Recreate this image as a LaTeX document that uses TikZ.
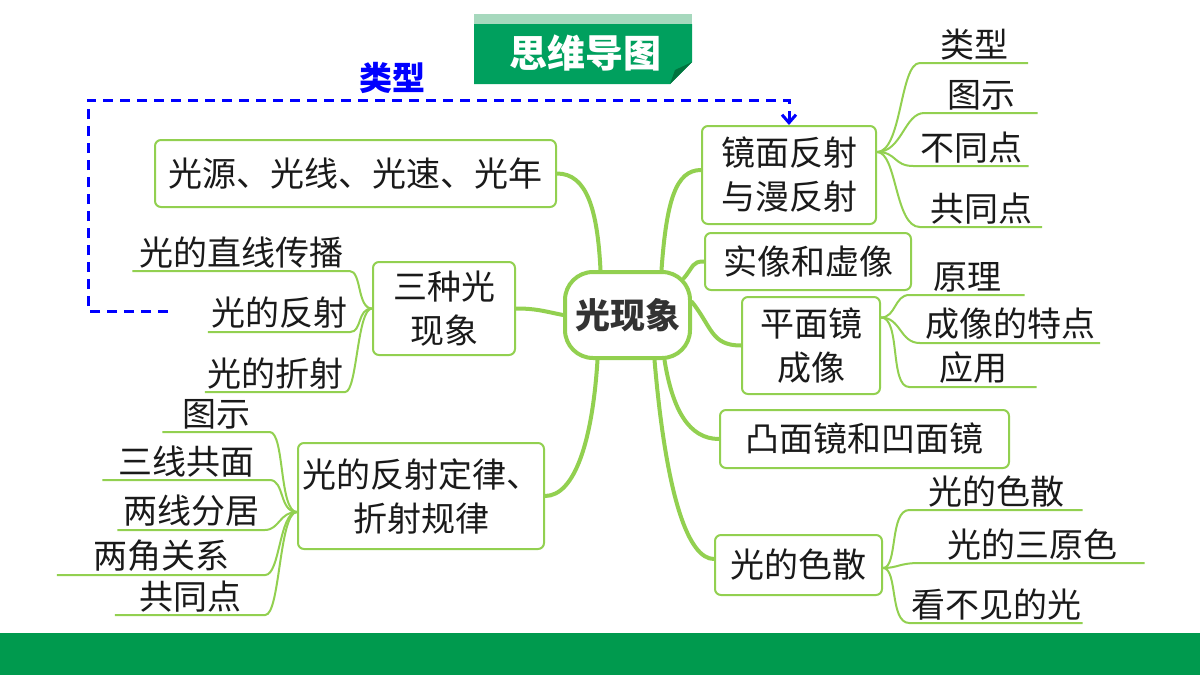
\documentclass[tikz,border=0pt]{standalone}
\usepackage{fontspec}
\setmainfont{Noto Sans CJK SC}
\usetikzlibrary{positioning, arrows.meta}
\definecolor{mapgreen}{HTML}{92D050}
\definecolor{bargreen}{HTML}{009A4E}
\definecolor{titlegreen}{HTML}{00A05E}
\definecolor{titlelight}{HTML}{A6D8BD}
\definecolor{titlefold}{HTML}{00743E}
\definecolor{linkblue}{HTML}{0000FF}
\definecolor{inkgrey}{HTML}{1A1A1A}

\begin{document}
\begin{tikzpicture}[
        x=1pt, y=-1pt,
        every node/.style={font=\fontsize{34}{44}\selectfont, text=inkgrey},
        box/.style={
          draw=mapgreen, line width=2pt,
          fill=white, rounded corners=6pt,
          align=center, inner sep=0pt,
        },
        hub/.style={
          draw=mapgreen, line width=4pt,
          fill=white, rounded corners=28pt, inner sep=0pt,
          font=\fontsize{35}{40}\selectfont\bfseries, text=black!80,
        },
        leaf/.style={anchor=south, inner xsep=0pt, inner ysep=3pt},
        branch/.style={draw=mapgreen, line width=4pt, line cap=round},
        twig/.style={draw=mapgreen, line width=2pt},
        jump/.style={
          draw=linkblue, line width=3pt, dash pattern=on 10pt off 7pt,
          -{Straight Barb[length=8pt, width=14pt]},
        },
      ]
      \useasboundingbox (0,0) rectangle (1200,675);
      \fill[white] (0,0) rectangle (1200,675);
      \fill[bargreen] (0,633) rectangle (1200,675);

      % title tab
      \fill[titlelight] (474,14) rectangle (692,24);
      \fill[titlegreen] (474,24) -- (692,24) -- (692,62) -- (670,84) -- (474,84) -- cycle;
      \fill[titlefold] (692,62) -- (670,84) -- (675,70) -- cycle;
      \node[font=\fontsize{38}{40}\selectfont\bfseries, text=white] (title) at (585,53) {思维导图};

      % main boxes
      \node[hub, minimum width=125, minimum height=86] (ctr) at (627.5,315) {光现象};
      \node[box, minimum width=401, minimum height=67] (src) at (355.5,173.5) {光源、光线、光速、光年};
      \node[box, minimum width=142, minimum height=93] (three) at (444,308.5) {三种光\\现象};
      \node[box, minimum width=246, minimum height=106] (law) at (421,496) {光的反射定律、\\折射规律};
      \node[box, minimum width=174, minimum height=98] (mir) at (789,175) {镜面反射\\与漫反射};
      \node[box, minimum width=206, minimum height=57] (real) at (808,261.5) {实像和虚像};
      \node[box, minimum width=138, minimum height=97] (plane) at (811,345.5) {平面镜\\成像};
      \node[box, minimum width=289, minimum height=58] (cvx) at (864.5,439) {凸面镜和凹面镜};
      \node[box, minimum width=167, minimum height=60] (disp) at (798.5,565) {光的色散};

      \draw[branch] ([xshift=-27pt]ctr.north) .. controls +(-3,-60) and +(30,0) .. (src.east);
      \draw[branch] (ctr.west) .. controls +(-20,-4) and +(20,0) .. (three.east);
      \draw[branch] ([xshift=-30pt]ctr.south) .. controls +(-5,80) and +(30,0) .. (law.east);
      \draw[branch] ([xshift=34pt]ctr.north) .. controls +(5,-70) and +(-25,0) .. ([yshift=5pt]mir.west);
      \draw[branch] ([xshift=-8pt,yshift=-8pt]ctr.north east) .. controls +(10,-12) and +(-12,0) .. (real.west);
      \draw[branch] ([yshift=13pt]ctr.east) .. controls +(20,25) and +(-30,0) .. (plane.west);
      \draw[branch] ([xshift=37pt]ctr.south) .. controls +(8,50) and +(-30,0) .. (cvx.west);
      \draw[branch] ([xshift=27pt]ctr.south) .. controls +(12,140) and +(-25,0) .. ([yshift=6pt]disp.west);

      % right leaves
      \node[leaf, minimum width=108] (mtype) at (974,63) {类型};
      \node[leaf, minimum width=113] (mfig) at (981,113) {图示};
      \node[leaf, minimum width=115] (mdiff) at (971,166) {不同点};
      \node[leaf, minimum width=122] (msame) at (981,227) {共同点};
      \draw[twig] ([yshift=23pt]mir.east) .. controls +(25,0) and +(-20,0) .. (mtype.south west) -- (mtype.south east);
      \draw[twig] ([yshift=23pt]mir.east) .. controls +(25,0) and +(-20,0) .. (mfig.south west) -- (mfig.south east);
      \draw[twig] ([yshift=23pt]mir.east) .. controls +(20,0) and +(-20,0) .. (mdiff.south west) -- (mdiff.south east);
      \draw[twig] ([yshift=23pt]mir.east) .. controls +(20,0) and +(-25,0) .. (msame.south west) -- (msame.south east);

      \node[leaf, minimum width=115] (pwhy) at (967,295) {原理};
      \node[leaf, minimum width=180] (pfeat) at (1010,343) {成像的特点};
      \node[leaf, minimum width=127] (puse) at (973,387) {应用};
      \draw[twig] ([yshift=28pt]plane.east) .. controls +(15,0) and +(-15,0) .. (pwhy.south west) -- (pwhy.south east);
      \draw[twig] ([yshift=28pt]plane.east) .. controls +(20,0) and +(-20,0) .. (pfeat.south west) -- (pfeat.south east);
      \draw[twig] ([yshift=28pt]plane.east) .. controls +(20,0) and +(-20,0) .. (puse.south west) -- (puse.south east);

      \node[leaf, minimum width=173] (dsplit) at (996,510) {光的色散};
      \node[leaf, minimum width=225] (drgb) at (1032,563) {光的三原色};
      \node[leaf, minimum width=173] (dhide) at (996,623) {看不见的光};
      \draw[twig] ([yshift=-3pt]disp.east) .. controls +(15,0) and +(-20,0) .. (dsplit.south west) -- (dsplit.south east);
      \draw[twig] ([yshift=-3pt]disp.east) .. controls +(15,0) and +(-20,0) .. (drgb.south west) -- (drgb.south east);
      \draw[twig] ([yshift=-3pt]disp.east) .. controls +(15,0) and +(-20,0) .. (dhide.south west) -- (dhide.south east);

      % left leaves
      \node[leaf, minimum width=217] (tline) at (241,271) {光的直线传播};
      \node[leaf, minimum width=142] (trefl) at (279,332) {光的反射};
      \node[leaf, minimum width=140] (trefr) at (275,392) {光的折射};
      \draw[twig] (three.west) .. controls +(-15,0) and +(12,0) .. (tline.south east) -- (tline.south west);
      \draw[twig] (three.west) .. controls +(-15,0) and +(12,0) .. (trefl.south east) -- (trefl.south west);
      \draw[twig] (three.west) .. controls +(-15,0) and +(12,0) .. (trefr.south east) -- (trefr.south west);

      \node[leaf, minimum width=107] (lfig) at (216,432) {图示};
      \node[leaf, minimum width=167] (lplane) at (186,480) {三线共面};
      \node[leaf, minimum width=147] (lsides) at (191,530) {两线分居};
      \node[leaf, minimum width=208] (langle) at (161,575) {两角关系};
      \node[leaf, minimum width=150] (lsame) at (190,615) {共同点};
      \draw[twig] ([yshift=-16pt]law.west) .. controls +(-18,0) and +(15,0) .. (lfig.south east) -- (lfig.south west);
      \draw[twig] ([yshift=-16pt]law.west) .. controls +(-18,0) and +(15,0) .. (lplane.south east) -- (lplane.south west);
      \draw[twig] ([yshift=-16pt]law.west) .. controls +(-18,0) and +(15,0) .. (lsides.south east) -- (lsides.south west);
      \draw[twig] ([yshift=-16pt]law.west) .. controls +(-18,0) and +(15,0) .. (langle.south east) -- (langle.south west);
      \draw[twig] ([yshift=-16pt]law.west) .. controls +(-18,0) and +(15,0) .. (lsame.south east) -- (lsame.south west);

      % dashed link
      \coordinate (jumpstart) at (168,311);
      \coordinate (jumpfoot) at (88,311);
      \coordinate (jumptop) at (88,100);
      \draw[jump] (jumpstart) -- (jumpfoot) -- (jumptop) -| (mir.north);
      \node[font=\fontsize{33}{36}\selectfont\bfseries, text=linkblue] (jumplbl) at (392,78) {类型};
    \end{tikzpicture}
\end{document}
